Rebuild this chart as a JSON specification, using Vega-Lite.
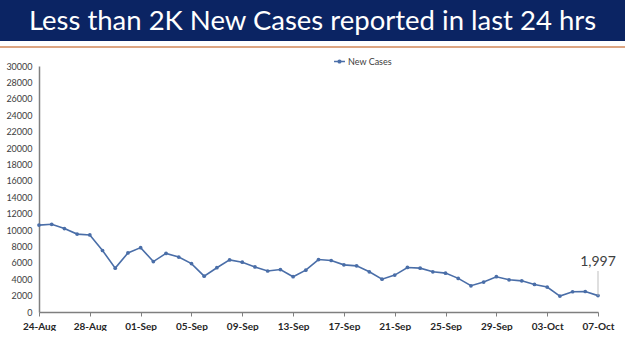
{
  "$schema": "https://vega.github.io/schema/vega-lite/v6.json",
  "padding": 0,
  "background": "white",
  "spacing": 10,
  "config": {"font": "Lato", "view": {"stroke": null}},
  "datasets": {
    "cases": [
      {"date": "2020/08/24", "value": 10600},
      {"date": "2020/08/25", "value": 10700},
      {"date": "2020/08/26", "value": 10170},
      {"date": "2020/08/27", "value": 9500},
      {"date": "2020/08/28", "value": 9400},
      {"date": "2020/08/29", "value": 7500},
      {"date": "2020/08/30", "value": 5350},
      {"date": "2020/08/31", "value": 7200},
      {"date": "2020/09/01", "value": 7850},
      {"date": "2020/09/02", "value": 6150},
      {"date": "2020/09/03", "value": 7150},
      {"date": "2020/09/04", "value": 6700},
      {"date": "2020/09/05", "value": 5900},
      {"date": "2020/09/06", "value": 4370},
      {"date": "2020/09/07", "value": 5400},
      {"date": "2020/09/08", "value": 6350},
      {"date": "2020/09/09", "value": 6070},
      {"date": "2020/09/10", "value": 5500},
      {"date": "2020/09/11", "value": 5000},
      {"date": "2020/09/12", "value": 5180},
      {"date": "2020/09/13", "value": 4300},
      {"date": "2020/09/14", "value": 5100},
      {"date": "2020/09/15", "value": 6400},
      {"date": "2020/09/16", "value": 6280},
      {"date": "2020/09/17", "value": 5750},
      {"date": "2020/09/18", "value": 5630},
      {"date": "2020/09/19", "value": 4900},
      {"date": "2020/09/20", "value": 4000},
      {"date": "2020/09/21", "value": 4500},
      {"date": "2020/09/22", "value": 5430},
      {"date": "2020/09/23", "value": 5350},
      {"date": "2020/09/24", "value": 4900},
      {"date": "2020/09/25", "value": 4740},
      {"date": "2020/09/26", "value": 4100},
      {"date": "2020/09/27", "value": 3200},
      {"date": "2020/09/28", "value": 3650},
      {"date": "2020/09/29", "value": 4300},
      {"date": "2020/09/30", "value": 3930},
      {"date": "2020/10/01", "value": 3800},
      {"date": "2020/10/02", "value": 3360},
      {"date": "2020/10/03", "value": 3040},
      {"date": "2020/10/04", "value": 1940},
      {"date": "2020/10/05", "value": 2470},
      {"date": "2020/10/06", "value": 2500},
      {"date": "2020/10/07", "value": 1997}
    ],
    "latest": [{"date": "2020/10/07", "value": 1997, "label": "1,997"}],
    "banner": [{"title": "Less than 2K New Cases reported in last 24 hrs"}]
  },
  "vconcat": [
    {
      "spacing": 0,
      "vconcat": [
        {
          "width": 625,
          "height": 41,
          "view": {"fill": "#0b2463", "stroke": null},
          "data": {"name": "banner"},
          "mark": {"type": "text", "color": "white", "font": "Lato", "fontSize": 27.5, "align": "center", "baseline": "middle", "dy": 1},
          "encoding": {"text": {"field": "title"}}
        },
        {
          "width": 625,
          "height": 2,
          "view": {"fill": "#dca582", "stroke": null},
          "data": {"name": "banner"},
          "mark": {"type": "text", "opacity": 0},
          "encoding": {"text": {"value": ""}}
        }
      ]
    },
    {
      "width": 625,
      "height": 246,
      "layer": [
        {
          "data": {"name": "cases"},
          "mark": {"type": "line", "strokeWidth": 1.6, "point": {"filled": true, "size": 14}},
          "encoding": {
            "x": {
              "field": "date", "type": "temporal",
              "scale": {"domain": [{"year": 2020, "month": 8, "date": 24}, {"year": 2020, "month": 10, "date": 7}], "range": [39, 598]},
              "axis": {
                "title": null,
                "format": "%d-%b",
                "tickCount": 20,
                "values": [
                  {"year": 2020, "month": 8, "date": 24},
                  {"year": 2020, "month": 8, "date": 28},
                  {"year": 2020, "month": 9, "date": 1},
                  {"year": 2020, "month": 9, "date": 5},
                  {"year": 2020, "month": 9, "date": 9},
                  {"year": 2020, "month": 9, "date": 13},
                  {"year": 2020, "month": 9, "date": 17},
                  {"year": 2020, "month": 9, "date": 21},
                  {"year": 2020, "month": 9, "date": 25},
                  {"year": 2020, "month": 9, "date": 29},
                  {"year": 2020, "month": 10, "date": 3},
                  {"year": 2020, "month": 10, "date": 7}
                ],
                "grid": false,
                "domainColor": "#7f7f7f",
                "domainWidth": 1.5,
                "tickColor": "#7f7f7f",
                "tickSize": 4,
                "labelFont": "Lato",
                "labelFontSize": 10,
                "labelFontWeight": "bold",
                "labelColor": "#262626",
                "labelPadding": 5,
                "labelFlush": false,
                "labelOverlap": false
              }
            },
            "y": {
              "field": "value", "type": "quantitative",
              "scale": {"domain": [0, 30000], "nice": false},
              "axis": {
                "title": null,
                "offset": -39,
                "tickCount": 20,
                "values": [0, 2000, 4000, 6000, 8000, 10000, 12000, 14000, 16000, 18000, 20000, 22000, 24000, 26000, 28000, 30000],
                "format": "d",
                "grid": false,
                "ticks": false,
                "domainColor": "#7f7f7f",
                "domainWidth": 1.5,
                "labelFont": "Lato",
                "labelFontSize": 9,
                "labelColor": "#404040",
                "labelPadding": 7,
                "labelOverlap": false,
                "labelFlush": false,
                "labelBound": false
              }
            },
            "color": {
              "datum": "New Cases",
              "scale": {"range": ["#4a6ea8"]},
              "legend": {
                "title": null,
                "orient": "none",
                "legendX": 333,
                "legendY": 55,
                "symbolType": "M-1,0L1,0M-0.25,0a0.25,0.25 0 1,0 0.5,0a0.25,0.25 0 1,0 -0.5,0",
                "symbolSize": 120,
                "symbolStrokeWidth": 1.5,
                "symbolFillColor": "#4a6ea8",
                "symbolStrokeColor": "#4a6ea8",
                "labelFont": "Lato",
                "labelFontSize": 9,
                "labelColor": "#404040",
                "labelOffset": 2
              }
            }
          }
        },
        {
          "data": {"name": "latest"},
          "mark": {"type": "rule", "color": "#bfbfbf", "strokeWidth": 1},
          "encoding": {
            "x": {"field": "date", "type": "temporal"},
            "y": {"field": "value", "type": "quantitative"},
            "y2": {"datum": 5000}
          }
        },
        {
          "data": {"name": "latest"},
          "mark": {"type": "text", "font": "Lato", "fontSize": 14, "color": "#404040", "align": "center", "baseline": "middle"},
          "encoding": {
            "x": {"field": "date", "type": "temporal"},
            "y": {"datum": 6100},
            "text": {"field": "label"}
          }
        }
      ]
    }
  ]
}
